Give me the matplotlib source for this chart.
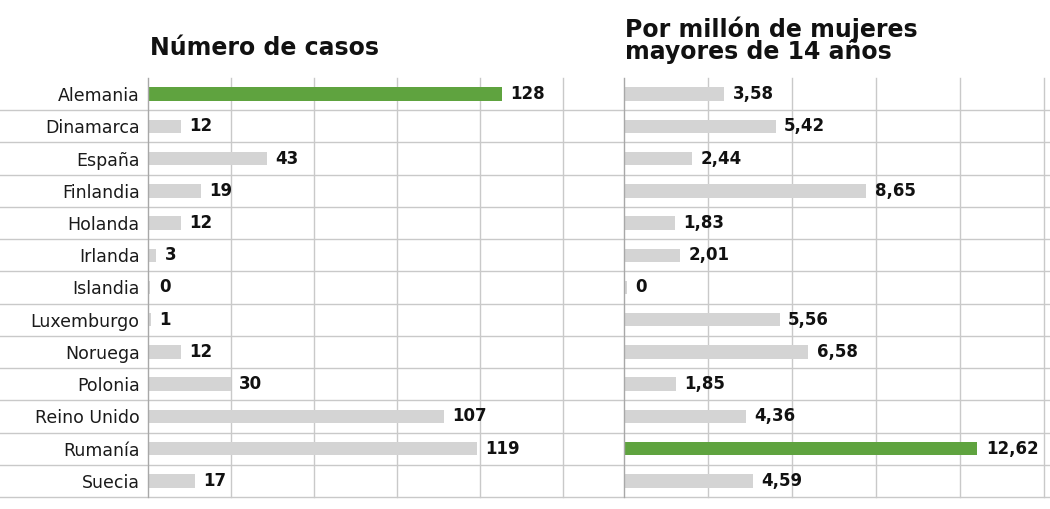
import matplotlib
matplotlib.use("Agg")
import matplotlib.pyplot as plt
import numpy as np

# datos
paises = ["Alemania", "Dinamarca", "España", "Finlandia", "Holanda", "Irlanda", "Islandia",
          "Luxemburgo", "Noruega", "Polonia", "Reino Unido", "Rumanía", "Suecia"]
casos = [128, 12, 43, 19, 12, 3, 0, 1, 12, 30, 107, 119, 17]
por_millon = [3.58, 5.42, 2.44, 8.65, 1.83, 2.01, 0, 5.56, 6.58, 1.85, 4.36, 12.62, 4.59]
destacado_casos = "Alemania"
destacado_millon = "Rumanía"

VERDE = "#5fa33f"
GRIS = "#d4d4d4"
GRID = "#c9c9c9"
SPINE = "#a8a8a8"

W, H = 1050, 509
fig = plt.figure(figsize=(W / 100, H / 100), dpi=100)
fig.patch.set_facecolor("white")

y = np.arange(len(paises))
top, bottom = 78, 497


def panel(x0, x1, valores, destacado, xmax, paso, fmt, label_y):
    ax = fig.add_axes([x0 / W, 1 - bottom / H, (x1 - x0) / W, (bottom - top) / H])
    ax.patch.set_alpha(0)
    colores = [VERDE if p == destacado else GRIS for p in paises]
    # barras casi nulas muestran una pequena franja
    vals = [max(v, xmax * 0.006) for v in valores]
    ax.barh(y, vals, height=0.42, color=colores, zorder=3)
    ax.set_xlim(0, xmax)
    ax.set_ylim(len(paises) - 0.5, -0.5)
    for xv in np.arange(paso, xmax + 0.01, paso):
        ax.axvline(xv, color=GRID, lw=1, zorder=1, clip_on=False)
    ax.axvline(0, color=SPINE, lw=1, zorder=4, clip_on=False)
    for sp in ax.spines.values():
        sp.set_visible(False)
    ax.set_xticks([])
    ax.set_yticks(y)
    if label_y:
        ax.set_yticklabels(paises, fontsize=12.5, color="#1a1a1a")
        ax.tick_params(axis="y", length=0, pad=6)
    else:
        ax.set_yticks([])
    for yi, v, vb in zip(y, valores, vals):
        ax.text(vb + xmax * 0.02, yi, fmt(v), va="center", ha="left",
                fontsize=12, fontweight="bold", color="#111111", zorder=5)
    return ax


izq = panel(148, 563, casos, destacado_casos, 150, 30, lambda v: f"{v}", True)
der = panel(624, 1044, por_millon, destacado_millon, 15, 3,
            lambda v: "0" if v == 0 else f"{v:.2f}".replace(".", ","), False)

# lineas horizontales que cruzan toda la figura
for yl in np.arange(0.5, len(paises), 1.0):
    izq.axhline(yl, xmin=-148 / 415, xmax=(W - 148) / 415, color=GRID, lw=1,
                clip_on=False, zorder=1)

fig.text(150 / W, 1 - 48 / H, "Número de casos", fontsize=17, fontweight="bold",
         va="center", ha="left", color="#111111")
fig.text(625 / W, 1 - 40 / H, "Por millón de mujeres\nmayores de 14 años", fontsize=17,
         fontweight="bold", va="center", ha="left", color="#111111", linespacing=0.92)

fig.savefig("out.png", dpi=100, facecolor="white")
